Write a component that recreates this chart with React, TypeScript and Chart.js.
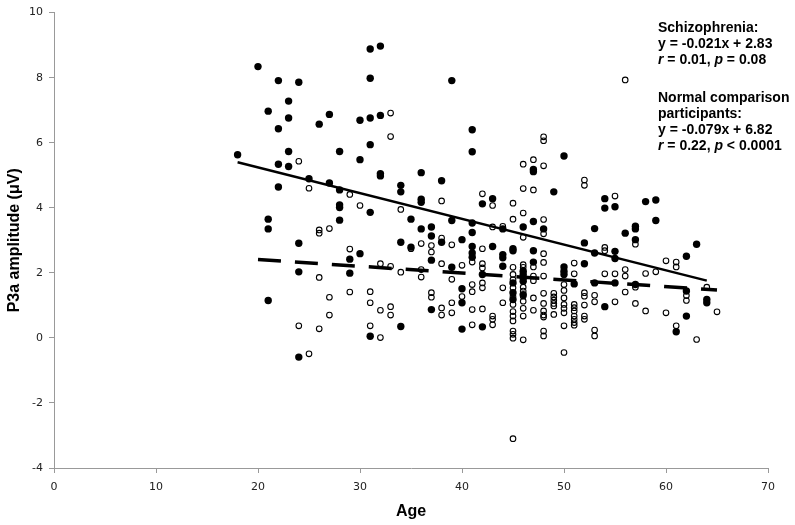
import React, { useEffect, useRef } from 'react';
import { Chart, registerables } from 'chart.js';

Chart.register(...registerables);

// Normal comparison participants (filled circles): [age, P3a amplitude]
const normalPoints: [number, number][] = [
  [20, 8.34], [22, 7.91], [24, 7.86], [23, 7.28], [21, 6.97], [23, 6.76], [27, 6.87], [26, 6.57],
  [22, 6.43], [18, 5.63], [23, 5.73], [28, 5.73], [22, 5.34], [23, 5.27], [22, 4.64], [25, 4.89],
  [27, 4.76], [28, 4.55], [28, 4.09], [28, 4.01], [28, 3.62], [21, 3.65], [21, 3.35],
  [24, 2.91], [29, 2.42], [30, 2.59], [24, 2.03], [29, 1.99], [21, 1.15], [24, -0.59],
  [31, 8.88], [32, 8.97], [31, 7.98], [39, 7.91], [30, 6.69], [31, 6.76], [32, 6.84], [31, 5.94],
  [30, 5.48], [41, 6.40], [41, 5.72], [32, 5.05], [32, 4.98], [36, 5.08], [38, 4.83], [34, 4.69],
  [34, 4.49], [36, 4.26], [36, 4.17], [31, 3.86], [42, 4.12], [35, 3.65], [39, 3.61], [36, 3.35],
  [37, 3.41], [41, 3.53], [41, 3.24], [37, 3.13],
  [38, 2.94], [40, 3.02], [34, 2.94], [35, 2.79], [37, 2.39], [39, 2.17], [41, 2.81], [41, 2.61],
  [41, 2.48], [42, 1.95], [37, 0.87], [40, 1.51], [40, 1.08], [31, 0.05], [34, 0.35], [40, 0.27],
  [42, 0.34],
  [50, 5.59], [47, 5.18], [47, 5.11], [49, 4.49], [54, 4.28], [54, 3.99], [55, 4.03], [43, 4.28],
  [46, 3.41], [47, 3.58], [48, 3.35], [53, 3.36], [44, 3.35],
  [43, 2.81], [45, 2.74], [45, 2.68], [47, 2.68], [47, 2.33], [44, 2.56], [44, 2.46], [44, 2.20],
  [46, 2.05], [46, 1.95], [46, 1.84], [46, 1.74], [52, 2.92], [52, 2.28], [50, 2.18], [50, 2.05],
  [50, 1.95], [51, 1.66], [53, 2.61], [55, 2.66], [55, 2.44], [53, 1.69], [55, 1.69], [54, 0.96],
  [46, 1.33], [45, 1.69], [45, 1.39], [45, 1.18],
  [58, 4.19], [59, 4.24], [59, 3.61], [57, 3.43], [57, 3.35], [56, 3.22],
  [57, 3.02], [63, 2.88], [62, 2.51], [57, 1.64], [62, 1.44], [62, 0.67], [61, 0.19], [64, 1.18],
  [64, 1.08],
];

// Schizophrenia (open circles): [age, P3a amplitude]
const schizPoints: [number, number][] = [
  [24, 5.43], [25, 4.60], [29, 4.41], [30, 4.07], [26, 3.32], [26, 3.22], [27, 3.36],
  [29, 2.73], [26, 1.86], [29, 1.41], [27, 1.25], [27, 0.70], [24, 0.37], [26, 0.28], [25, -0.49],
  [33, 6.91], [33, 6.19], [42, 4.43], [34, 3.95], [38, 4.21],
  [38, 3.07], [35, 2.74], [36, 2.90], [37, 2.84], [37, 2.64], [38, 2.28], [39, 2.86], [40, 2.23],
  [41, 2.33], [42, 2.74], [42, 2.28], [42, 2.15], [32, 2.28], [33, 2.20], [34, 2.02], [36, 2.10],
  [36, 1.87], [39, 1.80], [31, 1.42], [31, 1.08], [32, 0.85], [33, 0.96], [33, 0.70], [37, 1.39],
  [37, 1.25], [38, 0.92], [38, 0.70], [39, 1.08], [39, 0.77], [40, 1.27], [41, 1.64], [41, 1.42],
  [42, 1.69], [42, 1.54], [41, 0.87], [42, 0.89], [31, 0.37], [32, 0.01], [41, 0.40],
  [48, 6.18], [48, 6.06], [46, 5.34], [47, 5.48], [48, 5.29], [46, 4.59], [47, 4.55], [52, 4.85],
  [52, 4.69], [55, 4.36], [45, 4.14], [43, 4.07], [45, 3.65], [46, 3.84], [48, 3.64], [48, 3.20],
  [43, 3.41], [44, 3.43],
  [46, 3.09], [48, 2.59], [48, 2.32], [47, 2.18], [45, 2.17], [46, 2.25], [46, 2.17], [47, 1.90],
  [47, 1.76], [48, 1.90], [51, 2.30], [51, 1.97], [50, 1.64], [50, 1.46], [50, 1.23], [50, 1.03],
  [50, 0.91], [50, 0.77], [50, 0.37], [50, -0.45], [54, 2.78], [54, 2.68], [54, 1.97], [55, 1.97],
  [53, 1.31], [53, 1.11], [55, 1.11], [53, 0.24], [53, 0.06], [52, 1.39], [52, 1.28], [52, 1.01],
  [52, 0.67], [52, 0.57], [51, 1.03], [51, 0.93], [51, 0.83], [51, 0.67], [51, 0.57], [51, 0.47],
  [51, 0.39], [49, 1.37], [49, 1.26], [49, 1.16], [49, 1.06], [49, 0.98], [49, 0.72], [48, 1.37],
  [48, 1.06], [48, 0.83], [48, 0.70], [48, 0.64], [48, 0.21], [48, 0.06], [47, 1.23], [47, 0.85],
  [46, 1.56], [46, 1.44], [46, 1.28], [46, 1.13], [46, 0.91], [46, 0.67], [46, -0.06],
  [45, 1.95], [45, 1.79], [45, 1.54], [45, 1.28], [45, 1.03], [45, 0.81], [45, 0.67], [45, 0.52],
  [45, 0.21], [45, 0.11], [45, -0.01], [45, -3.10], [44, 1.54], [44, 1.08], [43, 0.67], [43, 0.57],
  [43, 0.40],
  [56, 7.93],
  [57, 2.88], [60, 2.37], [61, 2.33], [61, 2.18], [56, 2.10], [56, 1.90], [58, 1.98], [59, 2.03],
  [57, 1.56], [56, 1.41], [57, 1.06], [58, 0.83], [60, 0.77], [62, 1.30], [62, 1.15], [61, 0.37],
  [63, -0.05], [64, 1.56], [65, 0.80],
];

// Regression line end points (from the printed equations)
const normalFit: [number, number][] = [[18, 5.40], [64, 1.76]];
const schizFit: [number, number][] = [[20, 2.41], [65, 1.47]];

// Axis ranges
const xRange = [0, 70];
const yRange = [-4, 10];
const xStep = 10;
const yStep = 2;

const xTitle = 'Age';
const yTitle = 'P3a amplitude (\u03bcV)';

// Annotation lines: [text, italic]
const noteLines: [string, boolean][][] = [
  [['Schizophrenia:', false]],
  [['y = -0.021x + 2.83', false]],
  [['r', true], [' = 0.01, ', false], ['p', true], [' = 0.08', false]],
  [['Normal comparison', false]],
  [['participants:', false]],
  [['y = -0.079x + 6.82', false]],
  [['r', true], [' = 0.22, ', false], ['p', true], [' < 0.0001', false]],
];
const noteY = [28.5, 44.5, 60.5, 98.5, 114.5, 130.5, 146.5];
const NOTE_X = 658;

const toXY = (pts: [number, number][]) => pts.map(([x, y]) => ({ x, y }));

const notePlugin = {
  id: 'notes',
  afterDraw(chart: any) {
    const ctx = chart.ctx as CanvasRenderingContext2D;
    ctx.save();
    ctx.fillStyle = '#000';
    ctx.textBaseline = 'middle';
    ctx.textAlign = 'left';
    noteLines.forEach((segs, i) => {
      let x = NOTE_X;
      const y = noteY[i];
      segs.forEach(([text, italic]) => {
        ctx.font = `${italic ? 'italic ' : ''}bold 14px "Liberation Sans", Arial, sans-serif`;
        ctx.fillText(text, x, y);
        x += ctx.measureText(text).width;
      });
    });
    ctx.restore();
  },
};

export default function App() {
  const ref = useRef<HTMLCanvasElement | null>(null);

  useEffect(() => {
    if (!ref.current) return;
    const tickFont = { family: '"DejaVu Sans", Verdana, sans-serif', size: 11 };
    const titleFont = { family: '"Liberation Sans", Arial, sans-serif', size: 16, weight: 'bold' as const };
    const chart = new Chart(ref.current, {
      type: 'scatter',
      data: {
        datasets: [
          {
            type: 'line',
            data: toXY(normalFit),
            borderColor: '#000',
            borderWidth: 2.4,
            pointRadius: 0,
            fill: false,
            order: 0,
          } as any,
          {
            type: 'line',
            data: toXY(schizFit),
            borderColor: '#000',
            borderWidth: 3.5,
            borderDash: [23, 14],
            borderCapStyle: 'butt',
            pointRadius: 0,
            fill: false,
            order: 0,
          } as any,
          {
            data: toXY(normalPoints),
            backgroundColor: '#000',
            borderWidth: 0,
            pointRadius: 3.7,
            order: 1,
          },
          {
            data: toXY(schizPoints),
            backgroundColor: 'rgba(0,0,0,0)',
            borderColor: '#000',
            borderWidth: 1.1,
            pointRadius: 2.8,
            order: 2,
          },
        ],
      },
      options: {
        responsive: false,
        animation: false,
        events: [],
        layout: { padding: { top: 10, right: 27, left: 0, bottom: 0 } },
        plugins: { legend: { display: false }, tooltip: { enabled: false } },
        scales: {
          x: {
            type: 'linear',
            min: xRange[0],
            max: xRange[1],
            afterFit: (s: any) => { s.height = 57; },
            ticks: { stepSize: xStep, font: tickFont, color: '#222', padding: 8, maxRotation: 0 },
            grid: { drawOnChartArea: false, drawTicks: true, tickLength: 5, color: '#999' },
            border: { display: true, color: '#999', width: 1 },
            title: { display: true, text: xTitle, font: titleFont, color: '#000', padding: { top: 0, bottom: 4 } },
          },
          y: {
            type: 'linear',
            min: yRange[0],
            max: yRange[1],
            afterFit: (s: any) => { s.width = 54; },
            ticks: { stepSize: yStep, font: tickFont, color: '#222', padding: 6 },
            grid: { drawOnChartArea: false, drawTicks: true, tickLength: 5, color: '#999' },
            border: { display: true, color: '#999', width: 1 },
            title: { display: true, text: yTitle, font: titleFont, color: '#000', padding: { top: 5, bottom: 0 } },
          },
        },
      },
      plugins: [notePlugin],
    });
    return () => chart.destroy();
  }, []);

  return (
    <div style={{ position: 'fixed', left: 0, top: 0, width: 795, height: 525, background: '#fff' }}>
      <canvas ref={ref} width={795} height={525} />
    </div>
  );
}
